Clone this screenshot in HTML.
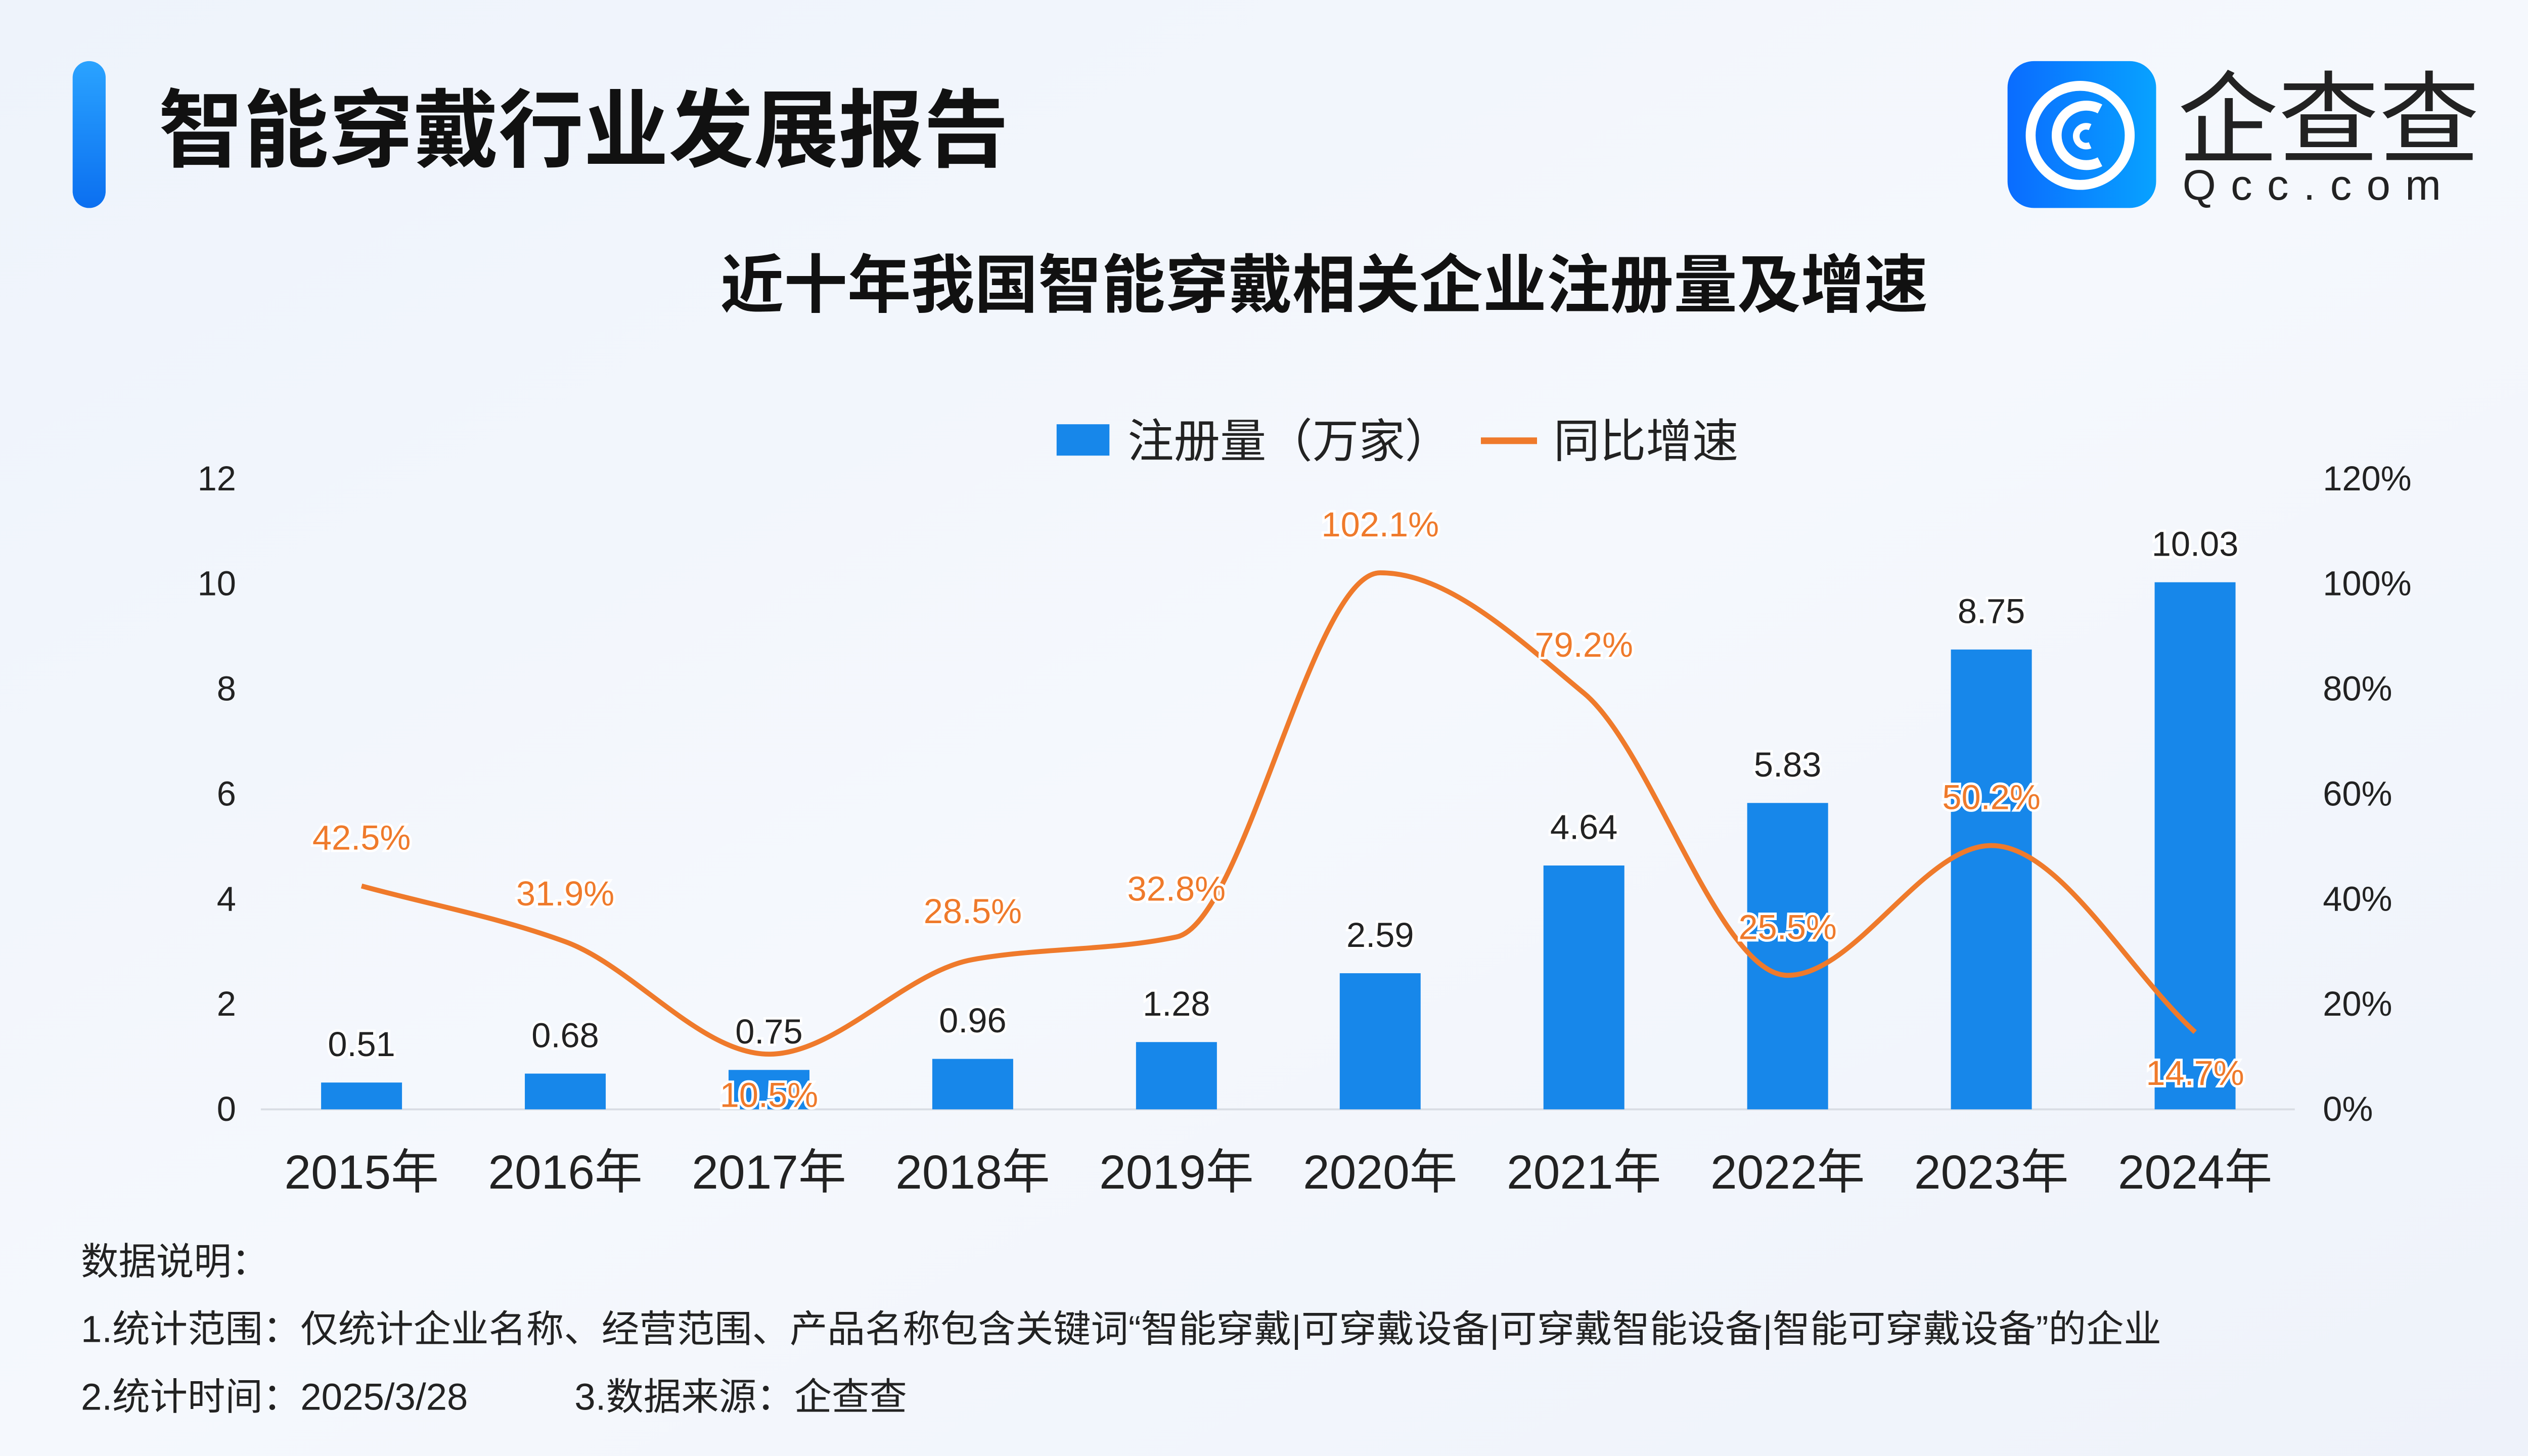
<!DOCTYPE html>
<html><head><meta charset="utf-8">
<style>
html,body{margin:0;padding:0;}
body{width:5120px;height:2880px;overflow:hidden;}
svg{display:block;font-family:"Liberation Sans","Noto Sans CJK SC",sans-serif;}
</style></head>
<body>
<svg width="5120" height="2880" viewBox="0 0 1568 882" xmlns="http://www.w3.org/2000/svg">
<defs>
<linearGradient id="bg" x1="0" y1="0" x2="1" y2="1">
<stop offset="0" stop-color="#eef3fb"/><stop offset="0.5" stop-color="#f5f8fd"/><stop offset="1" stop-color="#eef2fa"/>
</linearGradient>
<linearGradient id="pill" x1="0" y1="0" x2="0" y2="1">
<stop offset="0" stop-color="#2aa3ff"/><stop offset="1" stop-color="#0b6ff0"/>
</linearGradient>
<linearGradient id="logo" x1="0" y1="0" x2="1" y2="0">
<stop offset="0" stop-color="#0a6cff"/><stop offset="1" stop-color="#08a2ff"/>
</linearGradient>
</defs>
<rect width="1568" height="882" fill="url(#bg)"/>
<rect x="44" y="37" width="20" height="89" rx="10" fill="url(#pill)"/>
<text x="96" y="97" font-size="51.5" font-weight="bold" fill="#111">智能穿戴行业发展报告</text>

<g>
<rect x="1216" y="37" width="90" height="89" rx="16" fill="url(#logo)"/>
<circle cx="1260" cy="82" r="30" fill="none" stroke="#fff" stroke-width="6"/>
<path d="M1272 66 A18 18 0 1 0 1272 98" fill="none" stroke="#fff" stroke-width="6"/>
<path d="M1266 77 A6 6 0 1 0 1266 88" fill="none" stroke="#fff" stroke-width="4"/>
<text x="1319" y="94" font-size="61" fill="#222">企查查</text>
<text x="1322" y="121" font-size="26" fill="#222" letter-spacing="9">Qcc.com</text>
</g>

<text x="802" y="186" font-size="38.5" font-weight="bold" fill="#111" text-anchor="middle">近十年我国智能穿戴相关企业注册量及增速</text>

<g>
<rect x="640" y="257" width="32" height="19" fill="#1787ea"/>
<text x="683" y="277" font-size="28" fill="#222">注册量（万家）</text>
<line x1="897" y1="267" x2="931" y2="267" stroke="#ef7a2b" stroke-width="4"/>
<text x="941" y="277" font-size="28" fill="#222">同比增速</text>
</g>

<g id="chart"></g>

<g font-size="22.8" fill="#222">
<text x="49" y="772">数据说明：</text>
<text x="49" y="813">1.统计范围：仅统计企业名称、经营范围、产品名称包含关键词“智能穿戴|可穿戴设备|可穿戴智能设备|智能可穿戴设备”的企业</text>
<text x="49" y="854">2.统计时间：2025/3/28<tspan x="348">3.数据来源：企查查</tspan></text>
</g>
</svg>
<script>
const categories = ["2015年","2016年","2017年","2018年","2019年","2020年","2021年","2022年","2023年","2024年"];
const registrations = [0.51,0.68,0.75,0.96,1.28,2.59,4.64,5.83,8.75,10.03];
const growth = [42.5,31.9,10.5,28.5,32.8,102.1,79.2,25.5,50.2,14.7];
const leftTicks = [0,2,4,6,8,10,12];
const rightTicks = ["0%","20%","40%","60%","80%","100%","120%"];
const growthLabelBelow = [false,false,true,false,false,false,false,false,false,true];

const NS = "http://www.w3.org/2000/svg";
const g = document.getElementById("chart");
const y0 = 672, yTop = 290;
const xL = (i) => 219 + i * 123.4;
const yL = (v) => y0 - (v / 12) * (y0 - yTop);
const yR = (p) => y0 - (p / 120) * (y0 - yTop);
function mk(tag, attrs){ const e=document.createElementNS(NS,tag); for(const k in attrs) e.setAttribute(k,attrs[k]); g.appendChild(e); return e; }

const axis = mk("line",{x1:158,y1:y0,x2:1390,y2:y0,stroke:"#d9dde4","stroke-width":1.2});



leftTicks.forEach((t) => {
  const e = mk("text",{x:143,y:yL(t)+7,"font-size":21,fill:"#222","text-anchor":"end"});
  e.textContent = t;
  
  
});
rightTicks.forEach((t, i) => {
  const e = mk("text",{x:1407,y:yL(i*2)+7,"font-size":21,fill:"#222"});
  e.textContent = t;
  
  
});
categories.forEach((c, i) => {
  const e = mk("text",{x:xL(i),y:720,"font-size":29,fill:"#222","text-anchor":"middle"});
  e.textContent = c;
  
  
});
registrations.forEach((v, i) => {
  const b = mk("rect",{x:xL(i)-24.5,y:yL(v),width:49,height:y0-yL(v),fill:"#1787ea"});
  
  
});
// monotone cubic curve
const pts = growth.map((p, i) => [xL(i), yR(p)]);
const n = pts.length;
const sl = [];
for (let i = 0; i < n-1; i++) sl.push((pts[i+1][1]-pts[i][1])/(pts[i+1][0]-pts[i][0]));
const tg = [];
for (let i = 0; i < n; i++) {
  if (i === 0) tg.push(sl[0]);
  else if (i === n-1) tg.push(sl[n-2]);
  else if (sl[i-1]*sl[i] <= 0) tg.push(0);
  else tg.push(2/(1/sl[i-1]+1/sl[i]));
}
let d = "M" + pts[0][0] + " " + pts[0][1];
for (let i = 0; i < n-1; i++) {
  const h = (pts[i+1][0]-pts[i][0])/3;
  d += ` C${pts[i][0]+h} ${pts[i][1]+tg[i]*h} ${pts[i+1][0]-h} ${pts[i+1][1]-tg[i+1]*h} ${pts[i+1][0]} ${pts[i+1][1]}`;
}
const line = mk("path",{d:d,fill:"none",stroke:"#ef7a2b","stroke-width":3,"stroke-linejoin":"round"});



registrations.forEach((v, i) => {
  const e = mk("text",{x:xL(i),y:yL(v)-16,"font-size":21,fill:"#222","text-anchor":"middle",stroke:"#fff","stroke-width":3,"paint-order":"stroke"});
  e.textContent = v.toFixed(2);
  
  
});
growth.forEach((p, i) => {
  const y = growthLabelBelow[i] ? yR(p) + 32 : yR(p) - 22;
  const e = mk("text",{x:xL(i),y:y,"font-size":21,fill:"#ef7a2b","text-anchor":"middle",stroke:"#fff","stroke-width":3,"paint-order":"stroke"});
  e.textContent = p.toFixed(1) + "%";
  
  
});
</script>
</body></html>
